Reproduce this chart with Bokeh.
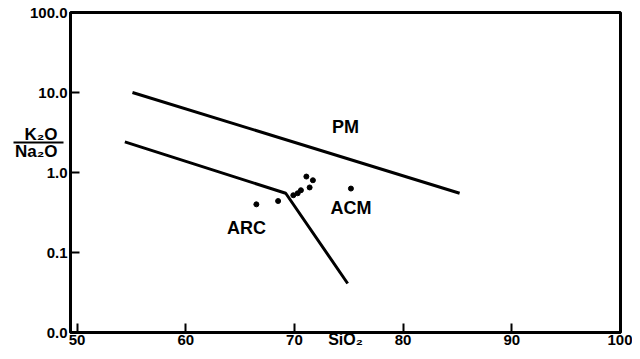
from bokeh.plotting import figure
from bokeh.models import FixedTicker, Label, Range1d, LogAxis
from bokeh.embed import file_html
from bokeh.resources import INLINE

# Boundary lines (SiO2, K2O/Na2O)
pm_line_x = [55.1, 85.2]
pm_line_y = [10.0, 0.55]
arc_line_x = [54.4, 69.2, 74.9]
arc_line_y = [2.41, 0.55, 0.041]

# Samples
sio2 = [66.5, 68.5, 69.9, 70.3, 70.6, 71.4, 71.1, 71.7, 75.2]
ratio = [0.40, 0.44, 0.52, 0.55, 0.60, 0.65, 0.89, 0.80, 0.63]

# Field labels
field_names = ["PM", "ACM", "ARC"]
field_x = [74.7, 75.2, 65.6]
field_y = [3.7, 0.36, 0.20]

x_ticks = [50, 60, 70, 80, 90, 100]
y_ticks = [0.01, 0.1, 1, 10, 100]
y_tick_labels = ["0.0", "0.1", "1.0", "10.0", "100.0"]
y_title_parts = ["K₂O", "Na₂O"]
x_title = "SiO₂"

FONT = "Liberation Sans"

p = figure(width=632, height=351, output_backend="svg", toolbar_location=None,
           y_axis_type="log",
           x_range=Range1d(49.4, 100), y_range=Range1d(0.01, 100),
           min_border_left=70, min_border_right=12, min_border_top=12, min_border_bottom=19)
p.grid.visible = False
p.outline_line_color = "black"
p.outline_line_width = 3
p.background_fill_color = "white"
p.border_fill_color = "white"

for ax in (p.xaxis[0], p.yaxis[0]):
    ax.axis_line_width = 3
    ax.axis_line_color = "black"
    ax.major_tick_line_width = 2
    ax.major_tick_out = 0
    ax.major_tick_in = 9
    ax.minor_tick_in = 0
    ax.minor_tick_out = 0
    ax.major_label_text_font = FONT
    ax.major_label_text_font_style = "bold"
    ax.major_label_text_font_size = "15px"
    ax.major_label_text_color = "black"

p.xaxis.ticker = FixedTicker(ticks=x_ticks)
p.xaxis.major_label_standoff = 2
p.xaxis.axis_label = x_title
p.xaxis.axis_label_text_font = FONT
p.xaxis.axis_label_text_font_style = "bold"
p.xaxis.axis_label_text_font_size = "16px"
p.xaxis.axis_label_text_color = "black"
p.xaxis.axis_label_standoff = -17

p.yaxis.ticker = FixedTicker(ticks=y_ticks)
p.yaxis.major_label_overrides = {t: l for t, l in zip(y_ticks, y_tick_labels)}
p.yaxis.major_label_standoff = 3

# Fraction-style y title: labels on an outer axis, fraction bar drawn as its minor tick
title_pos = [3.0, 1.85]
bar_pos = [2.40]
title_axis = LogAxis(ticker=FixedTicker(ticks=title_pos, minor_ticks=bar_pos),
                     major_label_overrides={t: s for t, s in zip(title_pos, y_title_parts)},
                     axis_line_color=None, major_tick_line_color=None,
                     major_tick_in=0, major_tick_out=0,
                     minor_tick_line_color="black", minor_tick_line_width=2,
                     minor_tick_out=13, minor_tick_in=37,
                     major_label_standoff=-44,
                     major_label_text_font=FONT, major_label_text_font_style="bold",
                     major_label_text_font_size="17px", major_label_text_color="black")
p.add_layout(title_axis, "left")

p.line(pm_line_x, pm_line_y, line_color="black", line_width=3)
p.line(arc_line_x, arc_line_y, line_color="black", line_width=3)
p.scatter(sio2, ratio, size=5, color="black")

for n, x, y in zip(field_names, field_x, field_y):
    p.add_layout(Label(x=x, y=y, text=n, text_font=FONT, text_font_style="bold",
                       text_font_size="18px", text_align="center",
                       text_baseline="middle", text_color="black"))

open("out.html", "w").write(file_html(p, INLINE))
